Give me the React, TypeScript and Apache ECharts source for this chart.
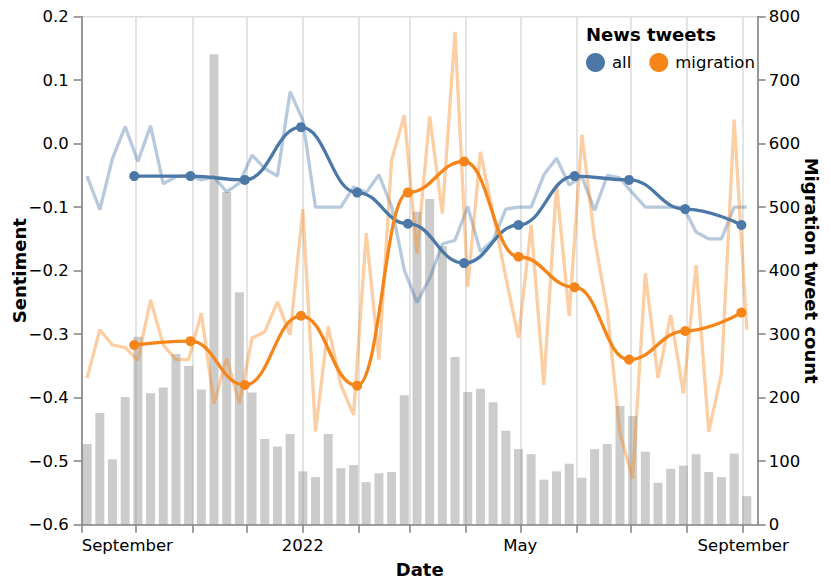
import React, { useEffect, useRef } from "react";
import * as echarts from "echarts";

const DAY = 86400000;
const firstWeek = Date.UTC(2021, 8, 4);

// weekly sentiment, all news tweets
const allWeekly = [
  -0.051, -0.104, -0.023, 0.027, -0.028, 0.028, -0.063, -0.052, -0.05, -0.057,
  -0.052, -0.076, -0.062, -0.018, -0.039, -0.051, 0.082, 0.037, -0.1, -0.1,
  -0.1, -0.068, -0.077, -0.049, -0.099, -0.199, -0.25, -0.212, -0.158, -0.152,
  -0.099, -0.17, -0.152, -0.103, -0.1, -0.1, -0.049, -0.023, -0.065, -0.052,
  -0.105, -0.05, -0.054, -0.078, -0.1, -0.1, -0.1, -0.1, -0.139, -0.15,
  -0.15, -0.1, -0.1,
];

// weekly sentiment, migration news tweets
const migWeekly = [
  -0.369, -0.293, -0.317, -0.321, -0.341, -0.246, -0.317, -0.34, -0.34, -0.267,
  -0.409, -0.338, -0.409, -0.306, -0.296, -0.249, -0.301, -0.103, -0.453, -0.288,
  -0.38, -0.427, -0.141, -0.34, -0.026, 0.045, -0.173, 0.043, -0.11, 0.176,
  -0.225, -0.013, -0.11, -0.21, -0.306, -0.128, -0.38, -0.065, -0.271, 0.014,
  -0.15, -0.262, -0.456, -0.527, -0.204, -0.369, -0.27, -0.393, -0.191, -0.454,
  -0.362, 0.038, -0.293,
];

// weekly migration tweet count
const migCount = [
  127, 176, 103, 201, 296, 207, 216, 269, 250, 213,
  741, 524, 366, 208, 135, 123, 143, 84, 75, 143,
  89, 94, 67, 81, 83, 204, 493, 513, 439, 264,
  209, 214, 193, 148, 119, 111, 71, 84, 96, 74,
  119, 127, 187, 171, 115, 66, 88, 93, 111, 83,
  75, 112, 45,
];

// monthly (month end) sentiment
const monthEnds = [
  [2021, 8, 30], [2021, 9, 31], [2021, 10, 30], [2021, 11, 31],
  [2022, 0, 31], [2022, 1, 28], [2022, 2, 31], [2022, 3, 30],
  [2022, 4, 31], [2022, 5, 30], [2022, 6, 31], [2022, 7, 31],
];
const allMonthly = [-0.051, -0.051, -0.057, 0.026, -0.077, -0.126, -0.188, -0.128, -0.051, -0.057, -0.103, -0.128];
const migMonthly = [-0.317, -0.311, -0.38, -0.271, -0.381, -0.077, -0.028, -0.178, -0.226, -0.34, -0.295, -0.266];

const BLUE = "#4c78a8";
const ORANGE = "#f58518";
const FONT = "DejaVu Sans";

export default function App() {
  const ref = useRef<HTMLDivElement>(null);
  useEffect(() => {
    document.body.style.margin = "0";
    const chart = echarts.init(ref.current!, null, { renderer: "svg" });
    const weekDates = migCount.map((_, i) => firstWeek + i * 7 * DAY);
    const monthDates = monthEnds.map((d) => Date.UTC(d[0], d[1], d[2]));
    const pair = (xs: number[], ys: number[]) => xs.map((x, i) => [x, ys[i]]);
    const monthNames: Record<number, string> = { 4: "May", 8: "September" };

    chart.setOption({
      animation: false,
      useUTC: true,
      textStyle: { fontFamily: FONT },
      title: {
        text: "News tweets",
        left: 581,
        top: 20,
        textStyle: { fontFamily: FONT, fontSize: 18, fontWeight: "bold", color: "#000" },
      },
      legend: {
        data: [
          { name: "all", icon: "circle" },
          { name: "migration", icon: "circle" },
        ],
        left: 581,
        top: 48,
        itemWidth: 19,
        itemHeight: 19,
        itemGap: 18,
        textStyle: { fontFamily: FONT, fontSize: 16.5, color: "#000", padding: [0, 0, 0, 2] },
      },
      grid: {
        left: 81.7,
        right: 73.3,
        top: 16.7,
        bottom: 62.3,
        containLabel: false,
        outerBoundsMode: "none",
        show: true,
        borderColor: "#ddd",
        borderWidth: 1.6,
      },
      xAxis: {
        type: "time",
        min: Date.UTC(2021, 8, 1),
        max: Date.UTC(2022, 8, 9),
        minInterval: 28 * DAY,
        maxInterval: 31 * DAY,
        name: "Date",
        nameLocation: "middle",
        nameGap: 36,
        nameTextStyle: { fontFamily: FONT, fontSize: 18, fontWeight: "bold", color: "#000" },
        axisLine: { onZero: false, lineStyle: { color: "#888", width: 1.6 } },
        axisTick: { length: 8, lineStyle: { color: "#888", width: 1.6 } },
        splitLine: { show: true, lineStyle: { color: "#ddd", width: 1.6 } },
        axisLabel: {
          fontFamily: FONT,
          fontSize: 16.5,
          color: "#000",
          margin: 12,
          alignMinLabel: "left",
          showMinLabel: true,
          hideOverlap: false,
          formatter: (v: number) => {
            const d = new Date(v);
            const m = d.getUTCMonth();
            if (d.getUTCDate() !== 1) return "";
            if (m === 0) return String(d.getUTCFullYear());
            return monthNames[m] || "";
          },
        },
      },
      yAxis: [
        {
          type: "value",
          min: -0.6,
          max: 0.2,
          interval: 0.1,
          name: "Sentiment",
          nameLocation: "middle",
          nameRotate: 90,
          nameGap: 53,
          nameMoveOverlap: false,
          nameTextStyle: { fontFamily: FONT, fontSize: 18, fontWeight: "bold", color: "#000" },
          axisLine: { show: true, onZero: false, lineStyle: { color: "#888", width: 1.6 } },
          axisTick: { show: true, length: 8, lineStyle: { color: "#888", width: 1.6 } },
          splitLine: { show: false },
          axisLabel: {
            fontFamily: FONT,
            fontSize: 16.5,
            color: "#000",
            margin: 13,
            formatter: (v: number) => (Math.abs(v) < 1e-9 ? "0.0" : v.toFixed(1).replace("-", "\u2212")),
          },
        },
        {
          type: "value",
          position: "right",
          min: 0,
          max: 800,
          interval: 100,
          name: "Migration tweet count",
          nameLocation: "middle",
          nameRotate: -90,
          nameGap: 45,
          nameMoveOverlap: false,
          nameTextStyle: { fontFamily: FONT, fontSize: 18, fontWeight: "bold", color: "#000" },
          axisLine: { show: true, onZero: false, lineStyle: { color: "#888", width: 1.6 } },
          axisTick: { show: true, length: 8, lineStyle: { color: "#888", width: 1.6 } },
          splitLine: { show: false },
          axisLabel: { fontFamily: FONT, fontSize: 16.5, color: "#000", margin: 11 },
        },
      ],
      series: [
        {
          name: "all weekly",
          type: "line",
          data: pair(weekDates, allWeekly),
          showSymbol: false,
          lineStyle: { color: BLUE, width: 3.3, opacity: 0.4 },
          itemStyle: { color: BLUE },
          silent: true,
        },
        {
          name: "migration weekly",
          type: "line",
          data: pair(weekDates, migWeekly),
          showSymbol: false,
          lineStyle: { color: ORANGE, width: 3.3, opacity: 0.4 },
          itemStyle: { color: ORANGE },
          silent: true,
        },
        {
          name: "all",
          type: "line",
          data: pair(monthDates, allMonthly),
          smooth: 0.45,
          smoothMonotone: "x",
          symbol: "circle",
          symbolSize: 10,
          lineStyle: { color: BLUE, width: 3.3 },
          itemStyle: { color: BLUE },
        },
        {
          name: "migration",
          type: "line",
          data: pair(monthDates, migMonthly),
          smooth: 0.45,
          smoothMonotone: "x",
          symbol: "circle",
          symbolSize: 10,
          lineStyle: { color: ORANGE, width: 3.3 },
          itemStyle: { color: ORANGE },
        },
        {
          name: "count",
          type: "custom",
          yAxisIndex: 1,
          data: pair(weekDates, migCount),
          encode: { x: 0, y: 1 },
          silent: true,
          renderItem: (params: any, api: any) => {
            const t = api.value(0);
            const top = api.coord([t, api.value(1)]);
            const base = api.coord([t, 0]);
            return {
              type: "rect",
              shape: { x: top[0] - 4.5, y: top[1], width: 9, height: base[1] - top[1] },
              style: { fill: "rgba(128,128,128,0.4)" },
            };
          },
        },
      ],
    });
    return () => chart.dispose();
  }, []);
  return <div ref={ref} style={{ width: 831, height: 587, position: "absolute", left: 0, top: 0 }} />;
}
